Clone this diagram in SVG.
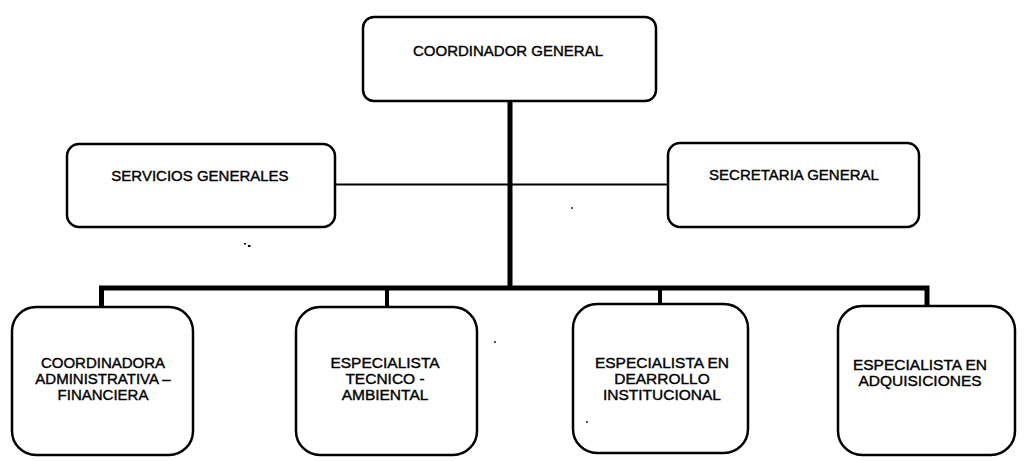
<svg xmlns="http://www.w3.org/2000/svg" width="1031" height="461" viewBox="0 0 1031 461">
<style>
.box{fill:#fff;stroke:#000;stroke-width:2.5}
.t{font-family:"Liberation Sans",Arial,sans-serif;font-size:15px;fill:#000;text-anchor:middle;stroke:#000;stroke-width:0.4}
.b{font-size:15.5px}
.thick{stroke:#000;stroke-width:5;fill:none}
.mid{stroke:#000;stroke-width:4;fill:none}
.thin{stroke:#000;stroke-width:1.8;fill:none}
</style>
<rect width="1031" height="461" fill="#fff"/>
<g id="connectors">
<line class="thick" x1="510" y1="101" x2="510" y2="290"/>
<line class="thin" x1="335" y1="184.5" x2="510" y2="184.5"/>
<line class="thin" x1="510" y1="184.5" x2="668" y2="184.5"/>
<polyline class="thick" points="101.5,308 101.5,288 927,288 927,306"/>
<line class="mid" x1="387" y1="288" x2="387" y2="308"/>
<line class="mid" x1="660" y1="288" x2="660" y2="304"/>
</g>
<g id="coordinador-general">
<rect class="box" x="363" y="17" width="293" height="84" rx="11"/>
<text class="t" x="508" y="56">COORDINADOR GENERAL</text>
</g>
<g id="servicios-generales">
<rect class="box" x="67" y="144" width="268" height="83" rx="12"/>
<text class="t" x="200" y="181">SERVICIOS GENERALES</text>
</g>
<g id="secretaria-general">
<rect class="box" x="668" y="143" width="251" height="84" rx="12"/>
<text class="t" x="794" y="180">SECRETARIA GENERAL</text>
</g>
<g id="coordinadora-administrativa">
<rect class="box" x="12" y="307" width="181" height="148" rx="24"/>
<text class="t" x="103" y="368">COORDINADORA</text>
<text class="t" x="103" y="384">ADMINISTRATIVA –</text>
<text class="t" x="103" y="400">FINANCIERA</text>
</g>
<g id="especialista-tecnico">
<rect class="box" x="296" y="307" width="181" height="148" rx="24"/>
<text class="t b" x="385" y="368">ESPECIALISTA</text>
<text class="t b" x="385" y="384">TECNICO -</text>
<text class="t b" x="385" y="400">AMBIENTAL</text>
</g>
<g id="especialista-desarrollo">
<rect class="box" x="573" y="304" width="175" height="149" rx="24"/>
<text class="t b" x="662" y="368">ESPECIALISTA EN</text>
<text class="t b" x="662" y="384">DEARROLLO</text>
<text class="t b" x="662" y="400">INSTITUCIONAL</text>
</g>
<g id="especialista-adquisiciones">
<rect class="box" x="838" y="306" width="177" height="149" rx="24"/>
<text class="t b" x="920" y="370">ESPECIALISTA EN</text>
<text class="t b" x="920" y="386">ADQUISICIONES</text>
</g>
<g id="specks" fill="#000">
<rect x="244" y="243" width="2" height="1.5"/>
<rect x="248" y="245" width="2.5" height="2"/>
<circle cx="572" cy="208" r="0.9"/>
<circle cx="495" cy="342" r="0.9"/>
<circle cx="587" cy="422" r="0.9"/>
</g>
</svg>
